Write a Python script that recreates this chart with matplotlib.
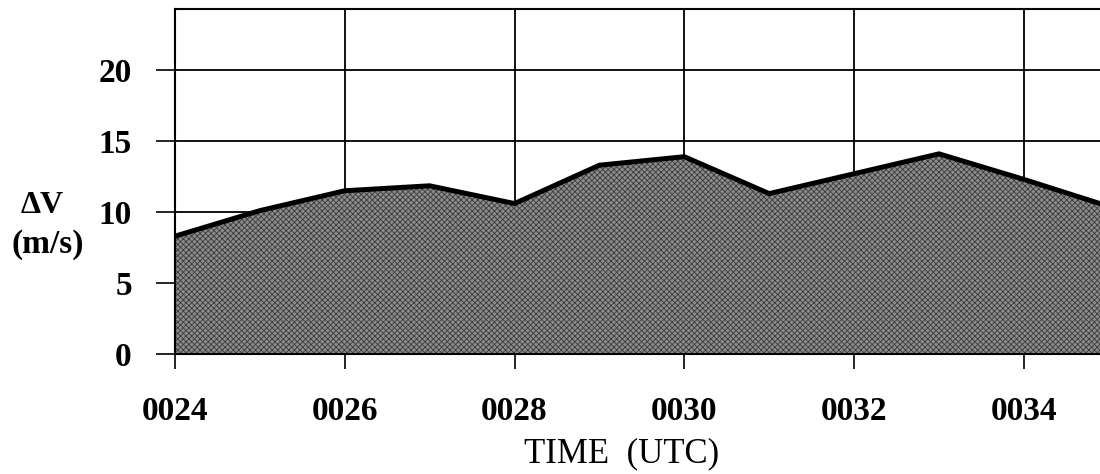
import numpy as np
from matplotlib import pyplot as plt

# Data
minutes = [24, 25, 26, 27, 28, 29, 30, 31, 32, 33, 34, 35]
delta_v = [8.3, 10.1, 11.5, 11.85, 10.6, 13.3, 13.9, 11.3, 12.7, 14.1, 12.3, 10.4]
x_ticks = [24, 26, 28, 30, 32, 34]
x_labels = ["0024", "0026", "0028", "0030", "0032", "0034"]
y_ticks = [0, 5, 10, 15, 20]

plt.rcParams['font.family'] = ['Liberation Serif', 'DejaVu Serif']
plt.rcParams['hatch.linewidth'] = 0.6
plt.rcParams['hatch.color'] = '#3a3a3a'

fig = plt.figure(figsize=(11, 4.74), dpi=100)
ax = fig.add_axes([0.159, 0.253, 0.849, 0.728])

# stippled gray fill under the curve
ax.fill_between(minutes, 0, delta_v, facecolor="#8c8c8c", edgecolor="#3a3a3a",
                hatch="xxxxxx", lw=0, zorder=2)
ax.plot(minutes, delta_v, color="black", lw=3.6, zorder=3, solid_joinstyle="miter")

ax.set_xlim(24, 35)
ax.set_ylim(0, 24.3)
ax.set_xticks(x_ticks)
ax.set_xticklabels(x_labels, fontweight="bold")
ax.set_yticks(y_ticks)
ax.set_yticklabels([str(v) for v in y_ticks], fontweight="bold")
ax.tick_params(axis="y", direction="out", length=14, width=1.2, pad=17, labelsize=24)
ax.tick_params(axis="x", direction="out", length=11, width=1.2, pad=19, labelsize=24)

ax.grid(True, color="black", lw=1.3, zorder=1)
ax.set_axisbelow(True)
for side in ["top", "left", "bottom"]:
    ax.spines[side].set_linewidth(1.5)
ax.spines["right"].set_visible(False)

fig.text(0.038, 0.567, "ΔV", ha="center", va="center", fontsize=23, fontweight="bold")
fig.text(0.043, 0.485, "(m/s)", ha="center", va="center", fontsize=24, fontweight="bold")
fig.text(0.565, 0.042, "TIME  (UTC)", ha="center", va="center", fontsize=25)

plt.savefig("out.png", dpi=100)
